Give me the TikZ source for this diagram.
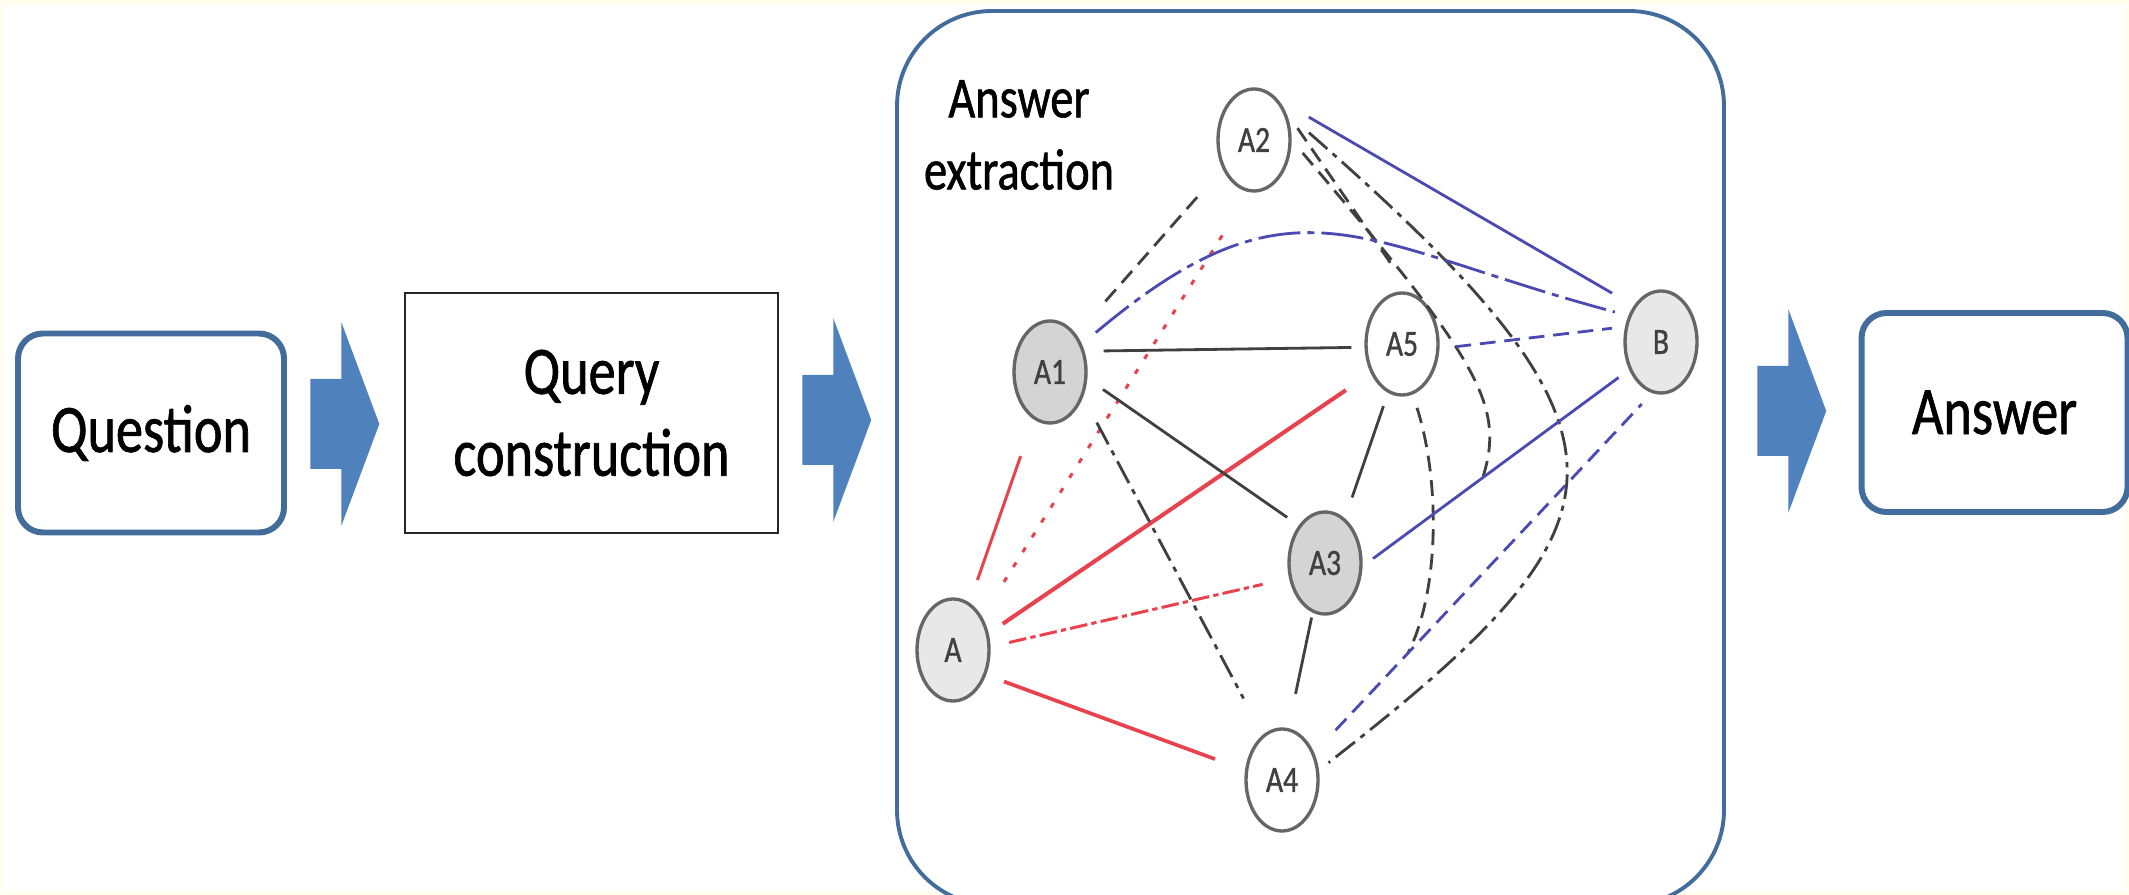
\documentclass[tikz,border=0pt]{standalone}
\usepackage{fontspec}
\setmainfont{Carlito}[FakeStretch=0.8,FakeBold=1]
\usetikzlibrary{shapes.geometric,calc}

\definecolor{boxblue}{RGB}{65,108,155}
\definecolor{arrowblue}{RGB}{79,129,189}
\definecolor{edgered}{RGB}{232,66,78}
\definecolor{edgeblue}{RGB}{74,74,178}
\definecolor{edgegray}{RGB}{64,64,64}
\definecolor{nodegray}{RGB}{212,212,212}
\definecolor{nodelight}{RGB}{232,232,232}
\definecolor{bgcream}{RGB}{255,253,236}

\begin{document}
\begin{tikzpicture}[x=0.1mm,y=-0.1mm,
  roundbox/.style={draw=boxblue,line width=1.7pt,rounded corners=2.5mm,fill=white,
    minimum width=26.6mm,minimum height=19.9mm,font=\fontsize{19.3}{23.3}\selectfont},
  querybox/.style={draw=black!85,line width=0.8pt,fill=white,align=center,
    minimum width=37.3mm,minimum height=24mm,font=\fontsize{19.3}{23.3}\selectfont},
  ans/.style={ellipse,draw=black!60,line width=0.95pt,fill=white,inner sep=0pt,
    minimum width=7.2mm,minimum height=10.2mm,text=black!75,font=\fontsize{10.5}{12}\selectfont},
  grayline/.style={draw=edgegray,line width=0.8pt},
  redline/.style={draw=edgered,line width=0.85pt},
  blueline/.style={draw=edgeblue,line width=0.8pt},
  longdash/.style={dash pattern=on 4.5pt off 2.5pt},
  dotdash/.style={dash pattern=on 7pt off 2pt on 1.5pt off 2pt},
  reddots/.style={dash pattern=on 1.5pt off 3.5pt}]
\useasboundingbox (0,0) rectangle (2129,895);
% Draw background
\fill[bgcream] (0,0) rectangle (2129,895);
\fill[white] (3,5) rectangle (2126,892);

% Draw boxes
\node[roundbox] (question) at (151,433) {Question};
\node[querybox] (query) at (591.5,413) {Query\\construction};
\node[draw=boxblue,line width=1.1pt,rounded corners=9.5mm,fill=white,
  minimum width=82.7mm,minimum height=89.4mm] (extract) at (1310.5,458) {};
\node[align=center,font=\fontsize{16.5}{20.5}\selectfont] (extracttitle) at (1019,135) {Answer\\extraction};
\node[roundbox] (answer) at (1994.5,412.5) {Answer};

% Draw block arrows
\foreach \from/\to/\ay in {question/query/424,query/extract/420,extract/answer/411}{
  \coordinate (mid) at ($(\from.east)!0.5!(\to.west)$);
  \fill[arrowblue] (mid |- 0,\ay) ++(-35,-45) -- ++(31,0) -- ++(0,-57) -- ++(38,102)
    -- ++(-38,102) -- ++(0,-57) -- ++(-31,0) -- cycle;
}

% Draw answer nodes
\node[ans,fill=nodegray] (A1) at (1050,372) {A1};
\node[ans] (A2) at (1254,140) {A2};
\node[ans] (A5) at (1402,344) {A5};
\node[ans,fill=nodelight] (B) at (1661,342) {B};
\node[ans,fill=nodegray] (A3) at (1325,563) {A3};
\node[ans] (A4) at (1282,780) {A4};
\node[ans,fill=nodelight] (A) at (953,650) {A};
\coordinate (a2end) at (1483,477);
\coordinate (a5end) at (1408,653);

% Draw red edges
\draw[redline,shorten <=2.4mm,shorten >=3.9mm] (A) -- (A1);
\draw[redline,reddots,shorten <=4.1mm,shorten >=3.9mm] (A.49) -- (A2.265);
\draw[redline,line width=1.15pt,shorten <=1.7mm,shorten >=3mm] (A.25) -- (A5.223);
\draw[redline,dash pattern=on 5pt off 1.2pt on 1.5pt off 1.2pt,shorten <=1.9mm,shorten >=2.7mm] (A.5) -- (A3.203);
\draw[redline,line width=1.05pt,shorten <=1.9mm,shorten >=3.2mm] (A.323) -- (A4.165);

% Draw gray edges
\draw[grayline,shorten <=1.9mm,shorten >=1.3mm] (A1.31) -- (A5.185);
\draw[grayline,shorten <=1.9mm,shorten >=1.4mm] (A1.350) -- (A3.125);
\draw[grayline,dotdash,shorten <=2.9mm,shorten >=4.1mm] (A1.323) -- (A4.113);
\draw[grayline,longdash,shorten <=4.4mm,shorten >=3.3mm] (A1.55) -- (A2.222);
\draw[grayline,shorten <=1.4mm,shorten >=2.2mm] (A5.254) -- (A3.66);
\draw[grayline,shorten <=0.5mm,shorten >=3.5mm] (A3.256) -- (A4.83);
\draw[grayline,longdash,shorten <=1.4mm] (A5.282) .. controls (1440,480) and (1440,590) .. (a5end);
\draw[grayline,longdash,shorten <=2.2mm,shorten >=3.2mm] (A2.44) -- (A5.80);
\draw[grayline,longdash,shorten <=1.7mm] (A2.east) .. controls (1480,362) and (1505,405) .. (a2end);
\draw[grayline,dotdash,shorten <=3mm,shorten >=1.2mm] (A2.40) .. controls (1660,440) and (1640,520) .. (A4.15);

% Draw blue edges
\draw[blueline,shorten <=3.6mm,shorten >=2.5mm] (A2.60) -- (B.127);
\draw[blueline,dash pattern=on 12pt off 2pt on 2pt off 2pt,shorten <=1.8mm,shorten >=1.4mm]
  (A1.41) .. controls (1295,165) and (1359,244) .. (B.141);
\draw[blueline,longdash,shorten <=1.6mm,shorten >=1.3mm] (A5.353) -- (B.157);
\draw[blueline,shorten <=1.3mm,shorten >=1.3mm] (A3.355) -- (B.221);
\draw[blueline,longdash,shorten <=3.1mm,shorten >=1.5mm] (A4.40) -- (B.260);

\end{tikzpicture}
\end{document}
